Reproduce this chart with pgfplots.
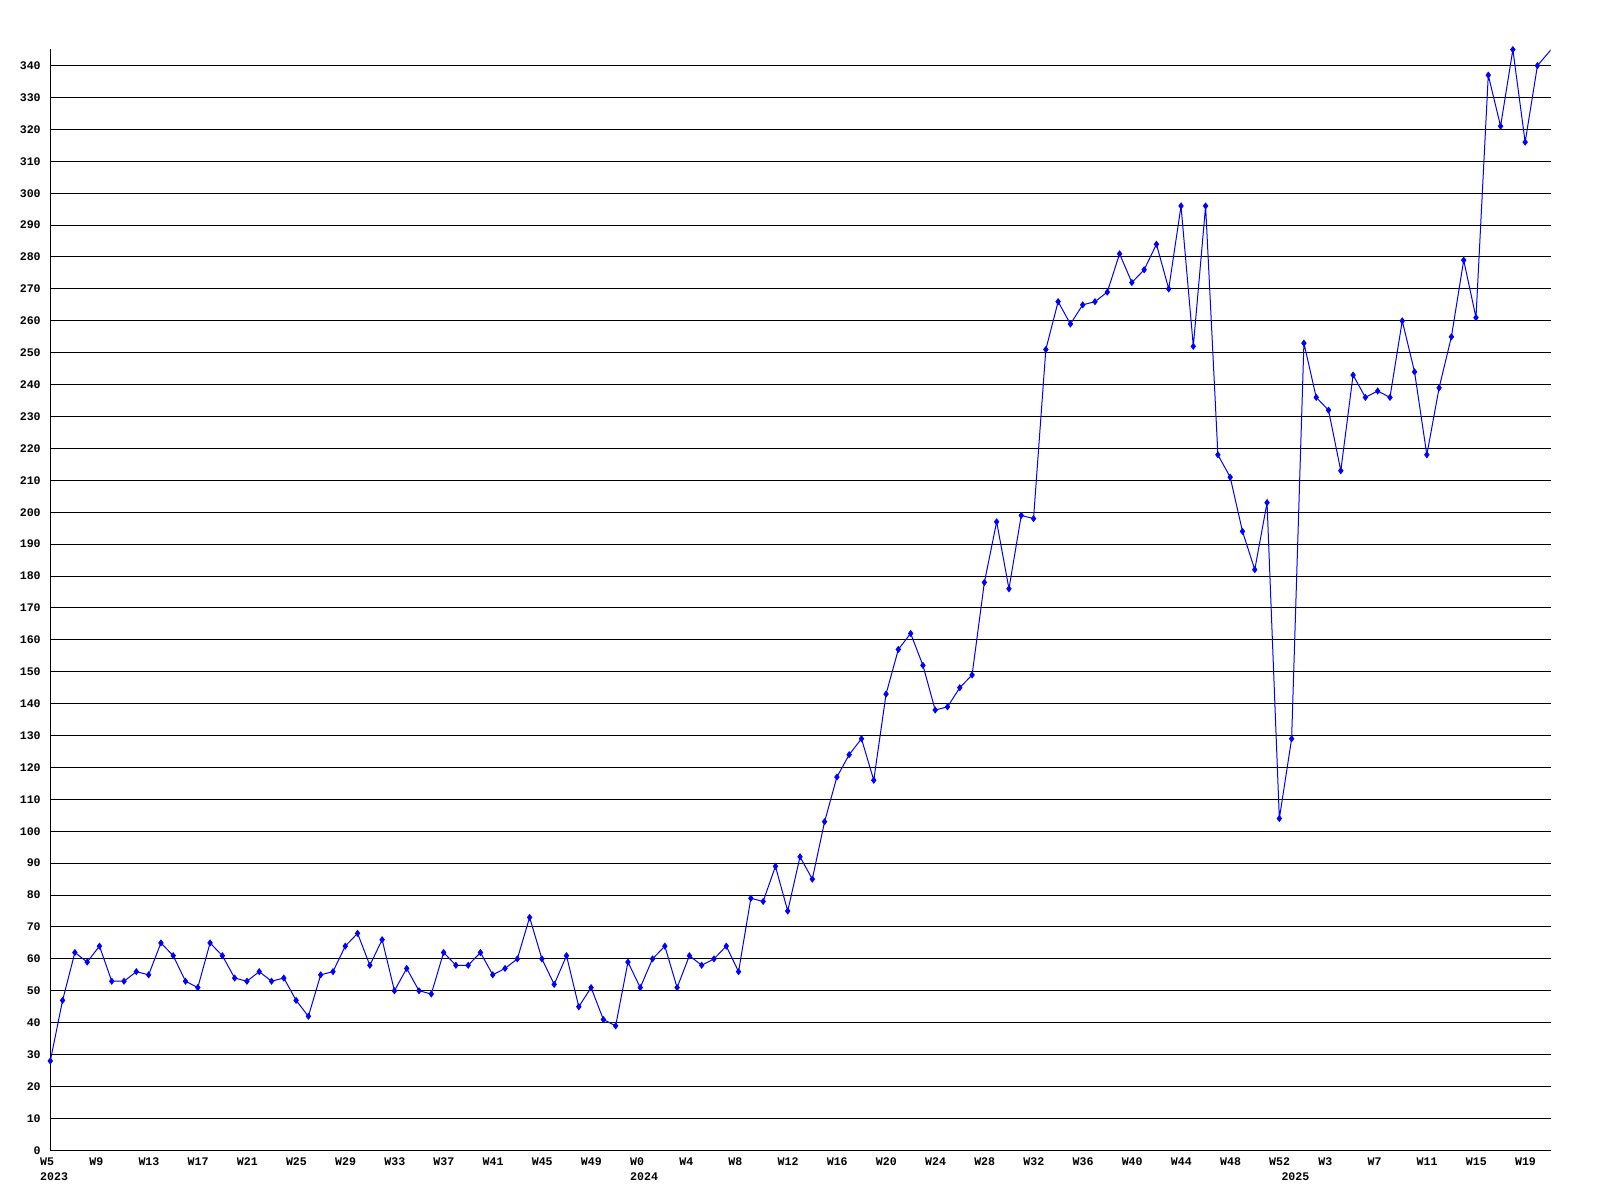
\documentclass[border=0pt]{standalone}
\usepackage{fontspec}
\setmonofont{Liberation Mono}
\usepackage{pgfplots}
\pgfplotsset{compat=1.18}
\newcommand{\lblfont}{\fontsize{5.8}{6}\selectfont\ttfamily\bfseries}
\begin{document}
\begin{tikzpicture}
\begin{axis}[
  at={(25.15pt,24.85pt)}, anchor=south west,
  scale only axis, width=750.2pt, height=550.65pt,
  xmin=0, xmax=122.08, ymin=0, ymax=345.2,
  axis x line=bottom, axis y line=left,
  axis line style={black, line width=0.5pt, -},
  ymajorgrids, grid style={black, line width=0.5pt},
  major tick length=0pt,
  ytick={0,10,...,340},
  xtick={0,4,...,120},
  xticklabels={W5,W9,W13,W17,W21,W25,W29,W33,W37,W41,W45,W49,W0,W4,W8,W12,W16,W20,W24,W28,W32,W36,W40,W44,W48,W52,W3,W7,W11,W15,W19},
  xticklabel style={font=\lblfont, anchor=west, inner sep=0pt, xshift=-5.25pt, yshift=-5.5pt},
  yticklabel style={font=\lblfont, anchor=east, inner sep=0pt, xshift=-4.6pt},
  /pgf/number format/assume math mode=true,
  clip=true,
]
\addplot[blue, line width=0.5pt, mark=diamond*, mark size=1.4pt, mark options={solid, fill=blue}] table[x=i, y=v] {
i v
0 28
1 47
2 62
3 59
4 64
5 53
6 53
7 56
8 55
9 65
10 61
11 53
12 51
13 65
14 61
15 54
16 53
17 56
18 53
19 54
20 47
21 42
22 55
23 56
24 64
25 68
26 58
27 66
28 50
29 57
30 50
31 49
32 62
33 58
34 58
35 62
36 55
37 57
38 60
39 73
40 60
41 52
42 61
43 45
44 51
45 41
46 39
47 59
48 51
49 60
50 64
51 51
52 61
53 58
54 60
55 64
56 56
57 79
58 78
59 89
60 75
61 92
62 85
63 103
64 117
65 124
66 129
67 116
68 143
69 157
70 162
71 152
72 138
73 139
74 145
75 149
76 178
77 197
78 176
79 199
80 198
81 251
82 266
83 259
84 265
85 266
86 269
87 281
88 272
89 276
90 284
91 270
92 296
93 252
94 296
95 218
96 211
97 194
98 182
99 203
100 104
101 129
102 253
103 236
104 232
105 213
106 243
107 236
108 238
109 236
110 260
111 244
112 218
113 239
114 255
115 279
116 261
117 337
118 321
119 345
120 316
121 340
};
\addplot[blue, line width=0.5pt, no marks] table[x=i, y=v] {
i v
121 340
123 349
};
\coordinate (y2023) at (axis cs:0,0);
\coordinate (y2024) at (axis cs:48,0);
\coordinate (y2025) at (axis cs:101,0);
\end{axis}
\foreach \c/\t in {y2023/2023, y2024/2024, y2025/2025}
  \node[font=\lblfont, anchor=west, inner sep=0pt, xshift=-5.25pt, yshift=-13.25pt] at (\c) {\t};
\pgfresetboundingbox
\useasboundingbox (0,0) rectangle (800pt,600pt);
\end{tikzpicture}
\end{document}
